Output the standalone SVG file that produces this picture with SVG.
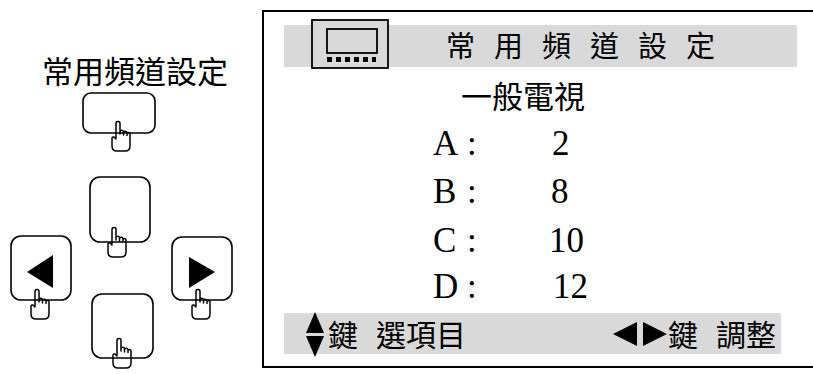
<svg xmlns="http://www.w3.org/2000/svg" xmlns:xlink="http://www.w3.org/1999/xlink" width="813" height="374" viewBox="0 0 813 374">
<style>
.btn{fill:none;stroke:#000;stroke-width:1.6}
.hand{fill:none;stroke:#000;stroke-width:1.5;stroke-linejoin:round;stroke-linecap:round}
.cjk{font-family:"Noto Sans CJK TC","Noto Sans CJK SC",sans-serif;fill:#000}
.ser{font-family:"Liberation Serif","Times New Roman",serif;font-size:35px;fill:#000}
.band{fill:#d9d9d9}
</style>
<defs>
<path id="hand" class="hand" d="M0,17 V2.5 A2,2 0 0 1 4,2.5 V13 M4,11 A1.75,1.75 0 0 1 7.5,11 V14 M7.5,12 A1.75,1.75 0 0 1 11,12 V14.5 M11,13 A1.5,1.5 0 0 1 14,13 V25 Q14,30 9,30 H1 Q-4,30 -4,25 V17.5 Q-4,15.5 -2,16 L0,18"/>
</defs>

<g id="remote">
  <text class="cjk" x="42" y="83" font-size="31">常用頻道設定</text>
  <g id="btn-menu">
    <rect class="btn" x="83" y="93" width="72" height="40" rx="8"/>
    <use xlink:href="#hand" href="#hand" x="116" y="121"/>
  </g>
  <g id="btn-up">
    <rect class="btn" x="90" y="177" width="60" height="65" rx="10"/>
    <use xlink:href="#hand" href="#hand" x="112" y="227"/>
  </g>
  <g id="btn-left">
    <rect class="btn" x="11" y="236" width="60" height="64" rx="10"/>
    <polygon points="27,272 53,255 53,288" fill="#000"/>
    <use xlink:href="#hand" href="#hand" x="35" y="289"/>
  </g>
  <g id="btn-right">
    <rect class="btn" x="172" y="237" width="60" height="63" rx="10"/>
    <polygon points="189,257 189,288 215,272" fill="#000"/>
    <use xlink:href="#hand" href="#hand" x="196" y="289"/>
  </g>
  <g id="btn-down">
    <rect class="btn" x="92" y="294" width="61" height="64" rx="10"/>
    <use xlink:href="#hand" href="#hand" x="117" y="338"/>
  </g>
</g>

<g id="screen">
  <path d="M813,11 H263 V367 H813" fill="none" stroke="#000" stroke-width="2"/>
  <g id="header">
    <rect class="band" x="284" y="25" width="513" height="42"/>
    <g id="tv-icon">
      <rect x="312" y="20" width="76" height="48" fill="#d9d9d9" stroke="#000" stroke-width="1.8"/>
      <rect x="327" y="29" width="50" height="24" fill="none" stroke="#000" stroke-width="1.8"/>
      <g fill="#000">
        <rect x="327" y="57" width="5" height="5"/>
        <rect x="336" y="57" width="5" height="5"/>
        <rect x="345" y="57" width="5" height="5"/>
        <rect x="354" y="57" width="5" height="5"/>
        <rect x="363" y="57" width="5" height="5"/>
        <rect x="372" y="57" width="4" height="5"/>
      </g>
    </g>
    <text class="cjk" font-size="29" y="57"><tspan x="446">常</tspan><tspan x="494">用</tspan><tspan x="542">頻</tspan><tspan x="590">道</tspan><tspan x="638">設</tspan><tspan x="686">定</tspan></text>
  </g>
  <text class="cjk" x="461" y="108" font-size="31">一般電視</text>
  <g id="rows">
    <text class="ser" x="433" y="155">A</text><text class="ser" x="467" y="155">:</text><text class="ser" x="552" y="155">2</text>
    <text class="ser" x="433" y="203">B</text><text class="ser" x="467" y="203">:</text><text class="ser" x="551" y="203">8</text>
    <text class="ser" x="433" y="252">C</text><text class="ser" x="467" y="252">:</text><text class="ser" x="549" y="252">10</text>
    <text class="ser" x="433" y="298">D</text><text class="ser" x="467" y="298">:</text><text class="ser" x="553" y="298">12</text>
  </g>
  <g id="footer">
    <rect class="band" x="284" y="313" width="497" height="41"/>
    <polygon points="315,312 324,333 306,333" fill="#000"/>
    <polygon points="306,336 324,336 315,357" fill="#000"/>
    <text class="cjk" font-size="30" y="346"><tspan x="328">鍵</tspan><tspan x="376">選項目</tspan></text>
    <polygon points="613,334 637,322 637,346" fill="#000"/>
    <polygon points="643,322 643,346 667,334" fill="#000"/>
    <text class="cjk" font-size="30" y="346"><tspan x="668">鍵</tspan><tspan x="716">調整</tspan></text>
  </g>
</g>
</svg>
